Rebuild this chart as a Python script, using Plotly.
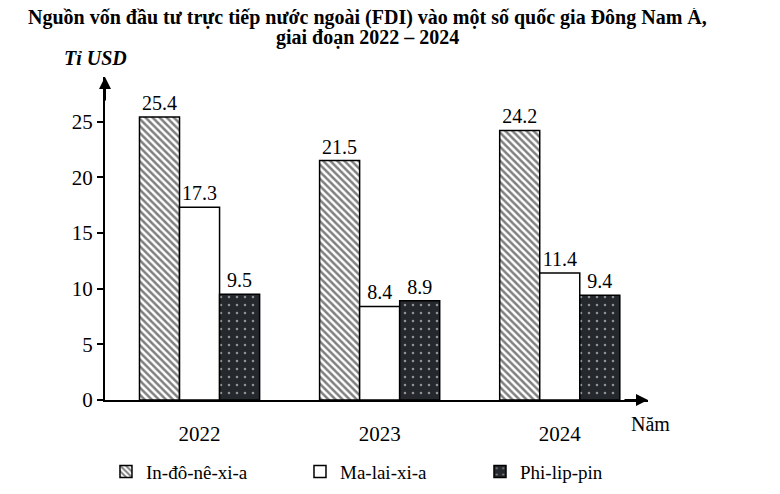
import plotly.graph_objects as go

# Dữ liệu FDI (tỉ USD)
years = ["2022", "2023", "2024"]
indonesia = [25.4, 21.5, 24.2]
malaysia = [17.3, 8.4, 11.4]
philippines = [9.5, 8.9, 9.4]
y_ticks = [0, 5, 10, 15, 20, 25]

serif = "Liberation Serif"
dark = "#25282d"

fig = go.Figure()

fig.add_trace(go.Bar(
    name="In-đô-nê-xi-a", x=years, y=indonesia, text=indonesia, legend="legend",
    marker=dict(color="white", line=dict(color="black", width=1.5),
                pattern=dict(shape="\\", fgcolor="black", bgcolor="white",
                             size=5, solidity=0.5)),
))
fig.add_trace(go.Bar(
    name="Ma-lai-xi-a", x=years, y=malaysia, text=malaysia, legend="legend2",
    marker=dict(color="white", line=dict(color="black", width=1.5)),
))
fig.add_trace(go.Bar(
    name="Phi-lip-pin", x=years, y=philippines, text=philippines, legend="legend3",
    marker=dict(color=dark, line=dict(color="black", width=1.5),
                pattern=dict(shape=".", fgcolor="white", bgcolor=dark,
                             size=8, solidity=0.08)),
))

fig.update_traces(texttemplate="%{text:.1f}", textposition="outside",
                  textfont=dict(family=serif, size=20, color="black"),
                  cliponaxis=False)

# trang html có lề body 8px -> bù lại ở margin
leg = dict(orientation="h", xref="paper", yref="paper", y=-0.2215,
           xanchor="left", yanchor="middle", font=dict(family=serif, size=19),
           itemwidth=30, bgcolor="rgba(0,0,0,0)")

fig.update_layout(
    width=780, height=494,
    paper_bgcolor="white", plot_bgcolor="white",
    barmode="group", bargap=0.333, bargroupgap=0,
    margin=dict(l=97, r=140, t=69, b=100),
    font=dict(family=serif, size=20, color="black"),
    xaxis=dict(range=[-0.525, 2.49], showline=True, linecolor="black", linewidth=2,
               ticks="", showgrid=False, zeroline=False, ticklabelstandoff=14,
               tickfont=dict(family=serif, size=21), automargin=False),
    yaxis=dict(range=[0, 29], tickvals=y_ticks, showline=True, linecolor="black",
               linewidth=2, ticks="outside", ticklen=6, tickwidth=1.5,
               tickcolor="black", showgrid=False, zeroline=False,
               tickfont=dict(family=serif, size=21), automargin=False),
    legend=dict(leg, x=0.0018),
    legend2=dict(leg, x=0.3591),
    legend3=dict(leg, x=0.6906),
    showlegend=True,
)

# Tiêu đề (hai dòng)
fig.add_annotation(xref="paper", yref="paper", x=0.484, y=1.185, yanchor="middle",
                   text="<b>Nguồn vốn đầu tư trực tiếp nước ngoài (FDI) vào một số quốc gia Đông Nam Á,</b>",
                   showarrow=False, font=dict(family=serif, size=20))
fig.add_annotation(xref="paper", yref="paper", x=0.484, y=1.122, yanchor="middle",
                   text="<b>giai đoạn 2022 – 2024</b>",
                   showarrow=False, font=dict(family=serif, size=20))

# Mũi tên trục
fig.add_annotation(xref="paper", yref="paper", x=0, y=1, ax=0, ay=25, text="",
                   showarrow=True, arrowhead=2, arrowsize=1.2, arrowwidth=2,
                   arrowcolor="black")
fig.add_annotation(xref="paper", yref="paper", x=1, y=0, ax=-25, ay=0, text="",
                   showarrow=True, arrowhead=2, arrowsize=1.2, arrowwidth=2,
                   arrowcolor="black")

# Tên trục
fig.add_annotation(xref="paper", yref="paper", x=-0.0166, y=1.0585, yanchor="middle",
                   xanchor="center", text="<b><i>Tỉ USD</i></b>",
                   showarrow=False, font=dict(family=serif, size=20))
fig.add_annotation(xref="paper", yref="paper", x=1.0037, y=-0.0738, xanchor="center",
                   yanchor="middle", text="Năm", showarrow=False,
                   font=dict(family=serif, size=20))

fig.write_html("out.html")
